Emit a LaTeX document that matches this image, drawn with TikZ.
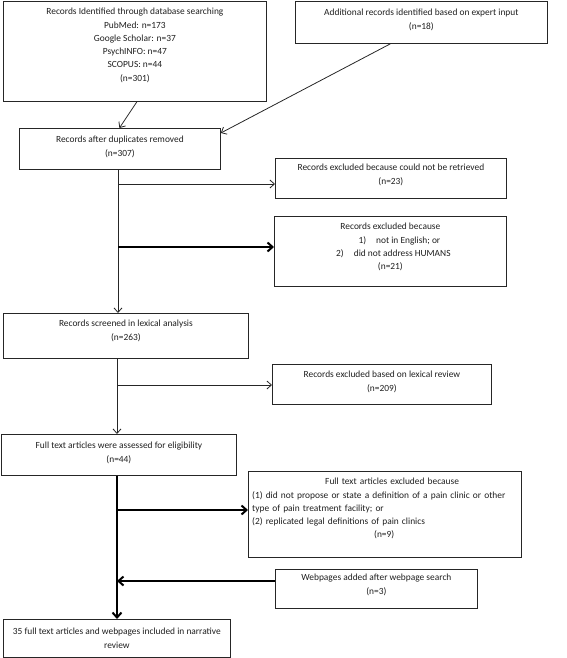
\documentclass[tikz,border=0pt]{standalone}
\usepackage{fontspec}
\setmainfont{Carlito}
\usetikzlibrary{arrows.meta}
\tikzset{
  box/.style={draw=black!85, line width=0.8pt, rectangle, inner sep=0pt, anchor=north west},
  txt/.style={inner sep=0pt, anchor=north, align=center, font=\fontsize{9.4}{13.3}\selectfont, text=black!88},
  thin/.style={draw=black!85, line width=0.8pt, -{Straight Barb[length=4.5pt,width=8pt,line width=0.8pt]}},
  thick/.style={draw=black, line width=2pt, -{Straight Barb[length=5pt,width=9pt,line width=2pt]}},
}
\begin{document}
\begin{tikzpicture}[x=1pt,y=-1pt]
\useasboundingbox (0,0) rectangle (567,658);
% boxes
\node[box, minimum width=263pt, minimum height=100pt] (b1) at (3,1) {};
\node[txt] (t1) at ([yshift=-7pt]b1.north) {Records Identified through database searching\\PubMed: n=173\\Google Scholar: n=37\\PsychINFO: n=47\\SCOPUS: n=44\\(n=301)};
\node[box, minimum width=252pt, minimum height=42pt] (b2) at (295,1) {};
\node[txt] (t2) at ([yshift=-8pt]b2.north) {Additional records identified based on expert input\\(n=18)};
\node[box, minimum width=201pt, minimum height=41pt] (b3) at (19,128) {};
\node[txt] (t3) at ([yshift=-8pt]b3.north) {Records after duplicates removed\\(n=307)};
\node[box, minimum width=231pt, minimum height=40pt] (b5) at (275,158) {};
\node[txt] (t5) at ([yshift=-6pt]b5.north) {Records excluded because could not be retrieved\\(n=23)};
\node[box, minimum width=232pt, minimum height=70pt] (b6) at (274,216) {};
\node[txt] (t6) at ([yshift=-7pt]b6.north) {Records excluded because\\\hspace*{18pt}1)\hspace{10pt}not in English; or\\\hspace*{6pt}2)\hspace{10pt}did not address HUMANS\\(n=21)};
\node[box, minimum width=245pt, minimum height=45pt] (b4) at (3,313) {};
\node[txt] (t4) at ([yshift=-7pt]b4.north) {Records screened in lexical analysis\\(n=263)};
\node[box, minimum width=219pt, minimum height=40pt] (b8) at (272,364) {};
\node[txt] (t8) at ([yshift=-7pt]b8.north) {Records excluded based on lexical review\\(n=209)};
\node[box, minimum width=235pt, minimum height=41pt] (b7) at (1,434) {};
\node[txt] (t7) at ([yshift=-8pt]b7.north) {Full text articles were assessed for eligibility\\(n=44)};
\node[box, minimum width=273pt, minimum height=86pt] (b9) at (248,471) {};
\node[txt, anchor=north west, align=left, text width=268pt] (t9) at ([xshift=4pt,yshift=-7pt]b9.north west) {\hspace*{73pt}Full text articles excluded because\\(1) did not propose or state a definition of a pain clinic or other\\type of pain treatment facility; or\\(2) replicated legal definitions of pain clinics\\\hspace*{122pt}(n=9)};
\node[box, minimum width=202pt, minimum height=39pt] (b10) at (275,569) {};
\node[txt] (t10) at ([yshift=-5pt]b10.north) {Webpages added after webpage search\\(n=3)};
\node[box, minimum width=227pt, minimum height=38pt] (b11) at (3,619) {};
\node[txt] (t11) at ([yshift=-9pt]b11.north) {35 full text articles and webpages included in narrative\\review};
% junction coordinates
\coordinate (xa) at (118,0);
\coordinate (xb) at (117,0);
\coordinate (j1) at (118,184);
\coordinate (j2) at (118,247);
\coordinate (j3) at (117,385);
\coordinate (j4) at (117,510);
\coordinate (j5) at (117,581);
% connectors
\draw[thin] ([xshift=2pt]b1.south) -- ([xshift=-0.5pt]b3.north);
\draw[thin] ([xshift=-31pt]b2.south) -- ([yshift=-5pt]b3.north east);
\draw[thin] (b3.south -| xa) -- (b4.north -| xa);
\draw[thin] (j1) -- (j1 -| b5.west);
\draw[thick] (j2) -- (j2 -| b6.west);
\draw[thin] (b4.south -| xb) -- (b7.north -| xb);
\draw[thin] (j3) -- (j3 -| b8.west);
\draw[thick] (b7.south -| xb) -- (b11.north -| xb);
\draw[thick] (j4) -- (j4 -| b9.west);
\draw[thick] (b10.west |- j5) -- (j5);
\end{tikzpicture}
\end{document}
